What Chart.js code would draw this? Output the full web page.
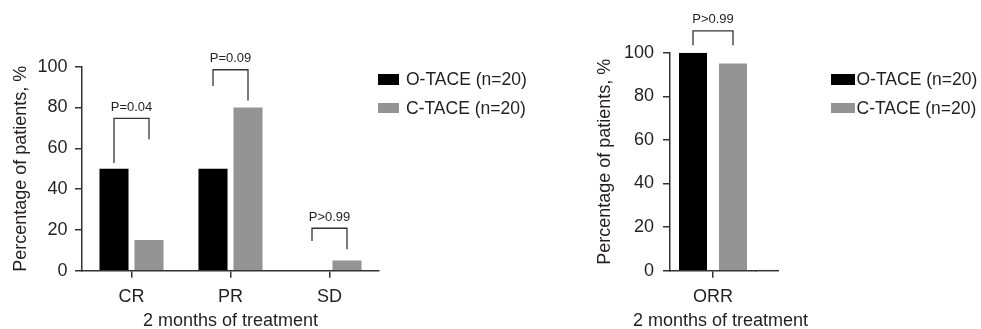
<!DOCTYPE html>
<html>
<head>
<meta charset="utf-8">
<script src="https://cdn.jsdelivr.net/npm/chart.js@4.4.0/dist/chart.umd.min.js"></script>
<style>
  html, body { margin: 0; padding: 0; background: #fff; width: 981px; height: 329px; overflow: hidden; }
  canvas { position: absolute; top: 0; }
  #left { left: 0; }
  #right { left: 560px; }
  .legend { position: absolute; font: 17.5px "Liberation Sans", Arial, sans-serif; color: #231f20; }
  .legend .row { position: absolute; left: 0; height: 20px; line-height: 20px; white-space: nowrap; }
  .legend .sw { position: absolute; top: 5px; height: 10.5px; }
  .legend .txt { position: absolute; top: 0; }
</style>
</head>
<body>
<canvas id="left" width="560" height="329"></canvas>
<canvas id="right" width="421" height="329"></canvas>

<div class="legend" style="left:378px; top:69px;">
  <div class="row" style="top:0"><span class="sw" style="width:21px; background:#000"></span><span class="txt" style="left:28px">O-TACE (n=20)</span></div>
  <div class="row" style="top:28.5px"><span class="sw" style="width:21px; background:#949494"></span><span class="txt" style="left:28px">C-TACE (n=20)</span></div>
</div>
<div class="legend" style="left:831px; top:69px;">
  <div class="row" style="top:0"><span class="sw" style="width:24px; background:#000"></span><span class="txt" style="left:25.5px">O-TACE (n=20)</span></div>
  <div class="row" style="top:28.5px"><span class="sw" style="width:24px; background:#949494"></span><span class="txt" style="left:25.5px">C-TACE (n=20)</span></div>
</div>

<script>
// data
var leftCategories = ["CR", "PR", "SD"];
var leftOTace = [50, 50, 0];
var leftCTace = [15, 80, 5];

var rightCategories = ["ORR"];
var rightOTace = [100];
var rightCTace = [95];

var seriesNames = ["O-TACE (n=20)", "C-TACE (n=20)"];
var xTitle = "2 months of treatment";
var yTitle = "Percentage of patients, %";

// p-value brackets (in % units)
var leftPLabels = ["P=0.04", "P=0.09", "P>0.99"];
var leftBracketTop = [74.7, 98.5, 20.8];
var leftBracketLeftEnd = [52.8, 90.5, 14.6];
var leftBracketRightEnd = [64.4, 83.4, 10.5];

var rightPLabels = ["P>0.99"];
var rightBracketTop = [110];
var rightBracketLeftEnd = [103.4];
var rightBracketRightEnd = [103.4];

var FONT = '"Liberation Sans", Arial, sans-serif';
var TEXT = "#231f20";
var AXIS = "#333333";
var BLACK = "#000000";
var GRAY = "#949494";

var bracketPlugin = {
    id: "brackets",
    afterDatasetsDraw: function (chart, args, opts) {
        var ctx = chart.ctx, y = chart.scales.y;
        var m0 = chart.getDatasetMeta(0).data, m1 = chart.getDatasetMeta(1).data;
        ctx.save();
        ctx.strokeStyle = AXIS;
        ctx.lineWidth = 1.3;
        ctx.fillStyle = TEXT;
        ctx.font = "13px " + FONT;
        ctx.textAlign = "center";
        ctx.textBaseline = "middle";
        opts.labels.forEach(function (lab, i) {
            var x0 = m0[i].x, x1 = m1[i].x;
            var yt = y.getPixelForValue(opts.top[i]);
            ctx.beginPath();
            ctx.moveTo(x0, y.getPixelForValue(opts.leftEnd[i]));
            ctx.lineTo(x0, yt);
            ctx.lineTo(x1, yt);
            ctx.lineTo(x1, y.getPixelForValue(opts.rightEnd[i]));
            ctx.stroke();
            ctx.fillText(lab, (x0 + x1) / 2, yt - 11);
        });
        ctx.restore();
    }
};

// narrow chart: run the x axis line on past the area and draw the
// axis title unclipped (the built-in one gets squeezed to the axis width)
var narrowAxisPlugin = {
    id: "narrowAxis",
    afterDraw: function (chart, args, opts) {
        if (!opts.extend) return;
        var ctx = chart.ctx, area = chart.chartArea;
        var yp = chart.scales.y.getPixelForValue(0);
        ctx.save();
        ctx.strokeStyle = AXIS;
        ctx.lineWidth = 1.5;
        ctx.beginPath();
        ctx.moveTo(area.right - 1, yp);
        ctx.lineTo(area.right + opts.extend, yp);
        ctx.stroke();
        ctx.fillStyle = TEXT;
        ctx.font = "18px " + FONT;
        ctx.textAlign = "center";
        ctx.textBaseline = "middle";
        ctx.fillText(xTitle, (area.left - 8 + area.right + opts.extend) / 2, chart.height - 8.1);
        ctx.restore();
    }
};

function makeChart(id, labels, oData, cData, cfg) {
    var ctx = document.getElementById(id).getContext("2d");
    return new Chart(ctx, {
        type: "bar",
        data: {
            labels: labels,
            datasets: [{
                label: seriesNames[0],
                data: oData,
                backgroundColor: BLACK,
                categoryPercentage: cfg.catPct,
                barPercentage: cfg.barPct
            }, {
                label: seriesNames[1],
                data: cData,
                backgroundColor: GRAY,
                categoryPercentage: cfg.catPct,
                barPercentage: cfg.barPct
            }]
        },
        options: {
            responsive: false,
            animation: false,
            layout: { padding: { left: cfg.padLeft, top: cfg.padTop, right: cfg.padRight, bottom: 0 } },
            plugins: {
                legend: { display: false },
                tooltip: { enabled: false },
                brackets: cfg.brackets,
                narrowAxis: { extend: cfg.extend || 0 }
            },
            scales: {
                x: {
                    grid: { drawOnChartArea: false, drawTicks: true, tickLength: 7, offset: false, color: AXIS, lineWidth: 1.5 },
                    border: { display: true, color: AXIS, width: 1.5 },
                    ticks: { color: TEXT, font: { size: 18, family: FONT }, padding: 8.5 },
                    title: { display: !cfg.extend, text: xTitle, color: TEXT, font: { size: 18, family: FONT, lineHeight: 0.9 }, padding: 0 },
                    afterFit: function (s) { s.height = 58.3; }
                },
                y: {
                    min: 0,
                    max: 100,
                    grid: { drawOnChartArea: false, drawTicks: true, tickLength: 7, color: AXIS, lineWidth: 1.5 },
                    border: { display: true, color: AXIS, width: 1.5 },
                    ticks: { stepSize: 20, color: TEXT, font: { size: 18, family: FONT }, padding: cfg.tickPad },
                    title: { display: true, text: yTitle, color: TEXT, font: { size: 18, family: FONT, lineHeight: 1.2 }, padding: { top: 10.2, bottom: 0 } },
                    afterFit: function (s) { s.width = cfg.yWidth; }
                }
            }
        },
        plugins: [bracketPlugin, narrowAxisPlugin]
    });
}

makeChart("left", leftCategories, leftOTace, leftCTace, {
    padLeft: 0, padTop: 66.7, padRight: 181, yWidth: 82, tickPad: 7.5,
    catPct: 0.707, barPct: 0.83,
    brackets: { labels: leftPLabels, top: leftBracketTop, leftEnd: leftBracketLeftEnd, rightEnd: leftBracketRightEnd }
});

makeChart("right", rightCategories, rightOTace, rightCTace, {
    padLeft: 24, padTop: 52.7, padRight: 225, yWidth: 86, tickPad: 9,
    catPct: 0.93, barPct: 0.7, extend: 23,
    brackets: { labels: rightPLabels, top: rightBracketTop, leftEnd: rightBracketLeftEnd, rightEnd: rightBracketRightEnd }
});
</script>
</body>
</html>
